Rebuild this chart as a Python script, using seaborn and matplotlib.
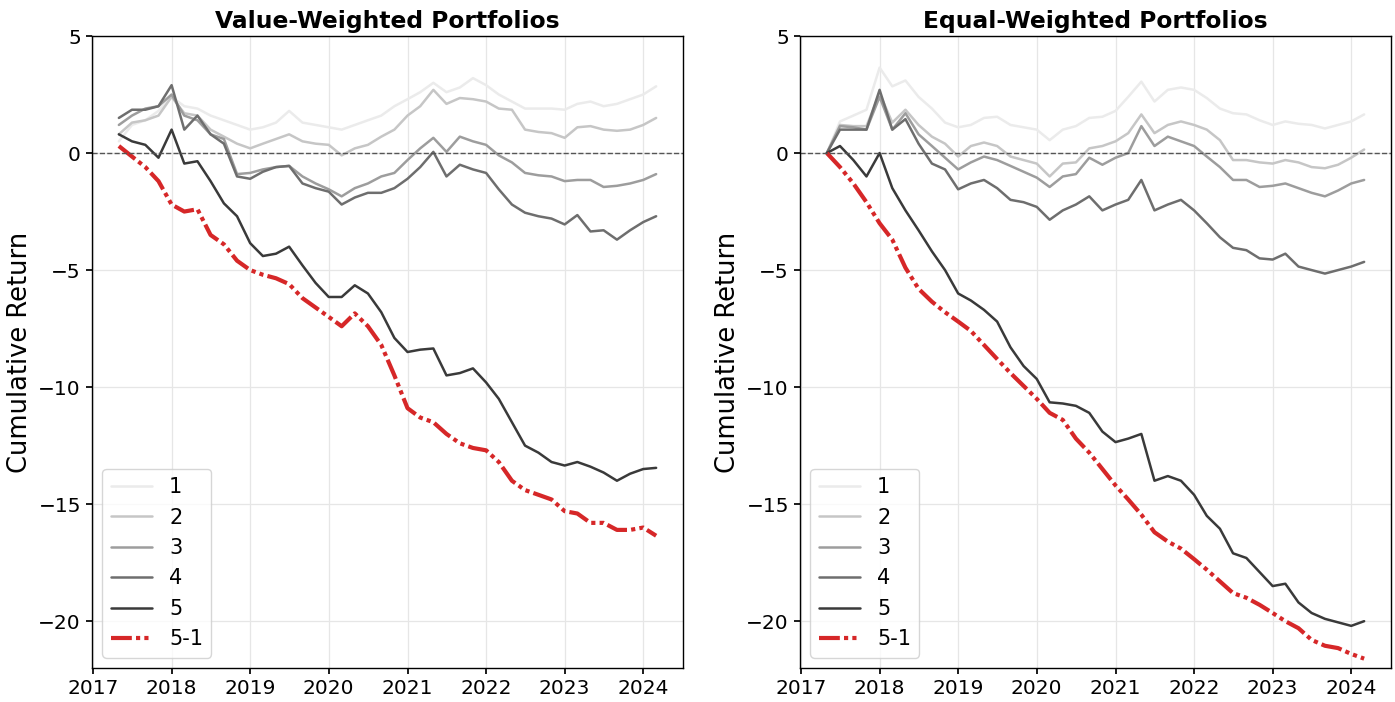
import numpy as np
import pandas as pd
import seaborn as sns
import matplotlib
matplotlib.use("Agg")
import matplotlib.pyplot as plt
import matplotlib.dates as mdates

dates = pd.date_range("2017-05-01", "2024-03-01", freq="2MS")

# Value-weighted portfolios (cumulative return)
vw1 = [0.5, 1.2, 1.4, 1.8, 2.4, 2.0, 1.9, 1.6, 1.4, 1.2, 1.0, 1.1, 1.3, 1.8, 1.3, 1.2, 1.1, 1.0, 1.2, 1.4, 1.6,
       2.0, 2.3, 2.6, 3.0, 2.6, 2.8, 3.2, 2.9, 2.5, 2.2, 1.9, 1.9, 1.9, 1.85, 2.1, 2.2, 2.0, 2.1, 2.3, 2.5, 2.85]
vw2 = [0.8, 1.3, 1.4, 1.6, 2.4, 1.7, 1.6, 1.0, 0.7, 0.4, 0.2, 0.4, 0.6, 0.8, 0.5, 0.4, 0.35, -0.1, 0.2, 0.35, 0.7,
       1.0, 1.6, 2.0, 2.7, 2.1, 2.35, 2.3, 2.2, 1.9, 1.85, 1.0, 0.9, 0.85, 0.65, 1.1, 1.15, 1.0, 0.95, 1.0, 1.2, 1.5]
vw3 = [1.2, 1.6, 1.9, 2.0, 2.5, 1.6, 1.4, 0.8, 0.6, -0.9, -0.85, -0.7, -0.6, -0.55, -1.0, -1.3, -1.55, -1.85, -1.5,
       -1.3, -1.0, -0.85, -0.3, 0.2, 0.65, 0.05, 0.7, 0.5, 0.35, -0.1, -0.4, -0.85, -0.95, -1.0, -1.2, -1.15, -1.15,
       -1.45, -1.4, -1.3, -1.15, -0.9]
vw4 = [1.5, 1.85, 1.85, 2.0, 2.9, 1.0, 1.6, 0.8, 0.4, -1.0, -1.1, -0.8, -0.6, -0.55, -1.3, -1.5, -1.65, -2.2, -1.9,
       -1.7, -1.7, -1.5, -1.1, -0.6, 0.05, -1.0, -0.5, -0.7, -0.85, -1.55, -2.2, -2.55, -2.7, -2.8, -3.05, -2.65,
       -3.35, -3.3, -3.7, -3.3, -2.95, -2.7]
vw5 = [0.8, 0.5, 0.35, -0.2, 1.0, -0.45, -0.35, -1.2, -2.15, -2.7, -3.85, -4.4, -4.3, -4.0, -4.8, -5.55, -6.15,
       -6.15, -5.65, -6.0, -6.8, -7.9, -8.5, -8.4, -8.35, -9.5, -9.4, -9.2, -9.8, -10.5, -11.5, -12.5, -12.8, -13.2,
       -13.35, -13.2, -13.4, -13.65, -14.0, -13.7, -13.5, -13.45]
vw51 = [0.3, -0.15, -0.6, -1.2, -2.2, -2.5, -2.4, -3.5, -3.9, -4.6, -5.0, -5.2, -5.35, -5.6, -6.2, -6.6, -7.0, -7.4,
        -6.85, -7.4, -8.2, -9.5, -10.9, -11.3, -11.5, -12.0, -12.4, -12.6, -12.7, -13.2, -14.0, -14.4, -14.6, -14.8,
        -15.3, -15.4, -15.8, -15.8, -16.1, -16.1, -16.0, -16.35]

# Equal-weighted portfolios (cumulative return)
ew1 = [0.0, 1.35, 1.6, 1.85, 3.65, 2.85, 3.1, 2.4, 1.9, 1.3, 1.1, 1.2, 1.5, 1.55, 1.2, 1.1, 1.0, 0.55, 1.0, 1.15,
       1.5, 1.55, 1.8, 2.4, 3.05, 2.2, 2.7, 2.8, 2.7, 2.35, 1.9, 1.7, 1.65, 1.4, 1.2, 1.35, 1.25, 1.2, 1.05, 1.2,
       1.35, 1.65]
ew2 = [0.0, 1.2, 1.15, 1.15, 2.55, 1.3, 1.85, 1.2, 0.7, 0.4, -0.15, 0.3, 0.45, 0.3, -0.15, -0.3, -0.45, -1.0, -0.45,
       -0.4, 0.2, 0.3, 0.5, 0.85, 1.65, 0.85, 1.2, 1.35, 1.2, 1.0, 0.55, -0.3, -0.3, -0.4, -0.45, -0.3, -0.4, -0.6,
       -0.65, -0.5, -0.2, 0.15]
ew3 = [0.0, 1.15, 1.1, 1.0, 2.4, 1.0, 1.7, 0.8, 0.3, -0.2, -0.7, -0.4, -0.15, -0.3, -0.55, -0.8, -1.05, -1.45, -1.0,
       -0.9, -0.2, -0.5, -0.2, 0.0, 1.15, 0.3, 0.7, 0.5, 0.3, -0.15, -0.6, -1.15, -1.15, -1.45, -1.4, -1.3, -1.5,
       -1.7, -1.85, -1.6, -1.3, -1.15]
ew4 = [0.0, 1.0, 1.0, 1.0, 2.7, 1.0, 1.45, 0.4, -0.45, -0.7, -1.55, -1.3, -1.15, -1.5, -2.0, -2.1, -2.3, -2.85, -2.45,
       -2.2, -1.85, -2.45, -2.2, -2.0, -1.15, -2.45, -2.2, -2.0, -2.45, -3.0, -3.6, -4.05, -4.15, -4.5, -4.55, -4.3,
       -4.85, -5.0, -5.15, -5.0, -4.85, -4.65]
ew5 = [0.0, 0.3, -0.3, -1.0, 0.0, -1.5, -2.45, -3.3, -4.2, -5.0, -6.0, -6.3, -6.7, -7.2, -8.3, -9.1, -9.65, -10.65,
       -10.7, -10.8, -11.1, -11.9, -12.35, -12.2, -12.0, -14.0, -13.8, -14.0, -14.6, -15.5, -16.05, -17.1, -17.3,
       -17.9, -18.5, -18.4, -19.2, -19.65, -19.9, -20.05, -20.2, -20.0]
ew51 = [0.0, -0.6, -1.3, -2.1, -3.0, -3.7, -4.9, -5.8, -6.35, -6.8, -7.2, -7.6, -8.2, -8.8, -9.4, -9.95, -10.5,
        -11.1, -11.4, -12.2, -12.8, -13.5, -14.2, -14.8, -15.45, -16.2, -16.6, -16.9, -17.35, -17.8, -18.3, -18.8,
        -19.0, -19.3, -19.65, -20.0, -20.3, -20.8, -21.05, -21.15, -21.4, -21.6]

labels = ["1", "2", "3", "4", "5", "5-1"]
grays = ["#ebebeb", "#c6c6c6", "#9d9d9d", "#6e6e6e", "#3a3a3a"]
red = "#d62728"

panels = [
    ("Value-Weighted Portfolios", [vw1, vw2, vw3, vw4, vw5, vw51]),
    ("Equal-Weighted Portfolios", [ew1, ew2, ew3, ew4, ew5, ew51]),
]

sns.set_theme(style="ticks")
plt.rcParams["font.family"] = ["DejaVu Sans"]
plt.rcParams["text.color"] = "black"
plt.rcParams["axes.labelcolor"] = "black"
plt.rcParams["xtick.color"] = "black"
plt.rcParams["ytick.color"] = "black"

fig = plt.figure(figsize=(13.95, 7.02), dpi=100)
ax_left = fig.add_axes([92 / 1395, 1 - 668 / 702, 591 / 1395, 632 / 702])
ax_right = fig.add_axes([800 / 1395, 1 - 668 / 702, 591 / 1395, 632 / 702])

for ax, (title, series) in zip([ax_left, ax_right], panels):
    for i, vals in enumerate(series[:5]):
        sns.lineplot(x=dates, y=vals, ax=ax, color=grays[i], linewidth=1.8, label=labels[i])
    sns.lineplot(x=dates, y=series[5], ax=ax, color=red, linewidth=3, label=labels[5],
                 linestyle=(0, (5, 1, 1, 1, 1, 1)))
    ax.axhline(0, color="#555555", linestyle="--", linewidth=1)

    ax.set_ylim(-22, 5)
    ax.set_yticks([5, 0, -5, -10, -15, -20])
    ax.xaxis.set_major_locator(mdates.YearLocator())
    ax.xaxis.set_major_formatter(mdates.DateFormatter("%Y"))
    ax.grid(True, color="#e6e6e6", linewidth=0.9)
    ax.tick_params(labelsize=14.5, length=4.5, color="black")
    for sp in ax.spines.values():
        sp.set_color("black")
        sp.set_linewidth(1)
    ax.set_title(title, fontsize=16.8, fontweight="bold", color="black")
    ax.set_xlabel("")
    ax.set_ylabel("Cumulative Return", fontsize=18.5)
    ax.legend(loc="lower left", fontsize=15, framealpha=0.8)

fig.savefig("out.png", dpi=100)
